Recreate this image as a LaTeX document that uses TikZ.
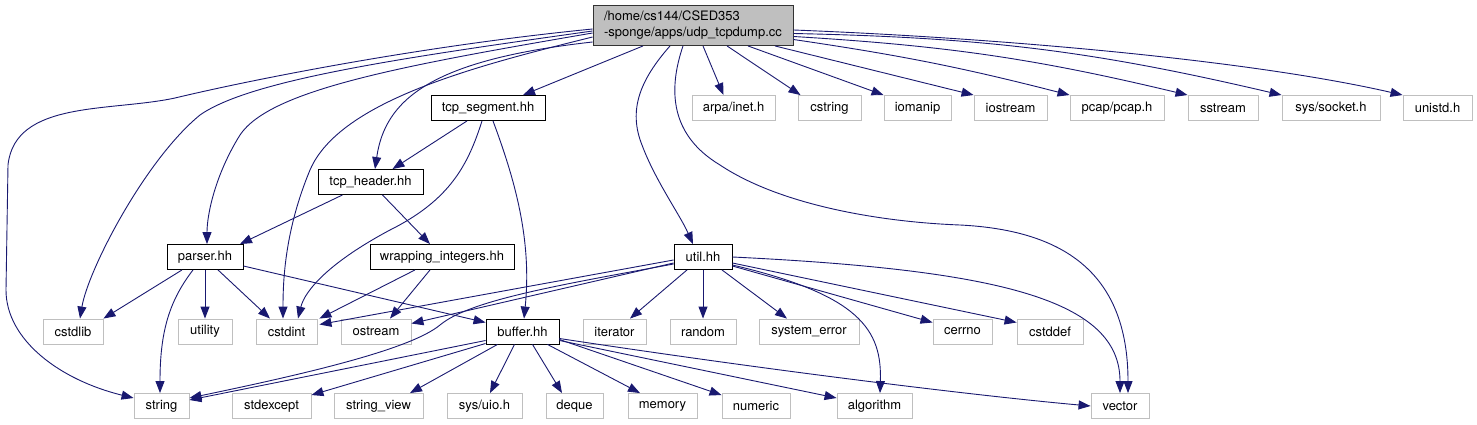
\documentclass[tikz,border=0pt]{standalone}
\usepackage{fontspec}
\setmainfont{TeX Gyre Heros}
\usetikzlibrary{calc,arrows.meta}
\definecolor{edgecol}{HTML}{191970}
\definecolor{extgray}{HTML}{BFBFBF}
\definecolor{rootfill}{HTML}{BFBFBF}
\tikzset{
  box/.style={draw=black, line width=0.9pt, fill=white, minimum height=25pt, inner sep=0pt, font=\fontsize{13}{16}\selectfont},
  ext/.style={box, draw=extgray},
  rootbox/.style={box, fill=rootfill, draw=black!80, minimum height=40pt, align=left},
  dep/.style={draw=edgecol, line width=0.9pt, -{Triangle[length=12pt,width=9pt]}}
}
\begin{document}
\begin{tikzpicture}[x=1pt,y=-1pt]
\useasboundingbox (0,0) rectangle (1477,425);
% nodes
\node[rootbox, minimum width=200pt] (root) at (693,25.5) {/home/cs144/CSED353\\-sponge/apps/udp\_tcpdump.cc};
\node[box, minimum width=114pt] (tcpseg) at (488,108) {tcp\_segment.hh};
\node[ext, minimum width=83pt] (arpa) at (733.5,108) {arpa/inet.h};
\node[ext, minimum width=63pt] (cstring) at (829.5,108) {cstring};
\node[ext, minimum width=67pt] (iomanip) at (917.5,108) {iomanip};
\node[ext, minimum width=73pt] (iostream) at (1010.5,108) {iostream};
\node[ext, minimum width=94pt] (pcap) at (1117,108) {pcap/pcap.h};
\node[ext, minimum width=70pt] (sstream) at (1223,108) {sstream};
\node[ext, minimum width=98pt] (socket) at (1331,108) {sys/socket.h};
\node[ext, minimum width=69pt] (unistd) at (1437.5,108) {unistd.h};
\node[box, minimum width=105pt] (tcphdr) at (370.5,182) {tcp\_header.hh};
\node[box, minimum width=76pt] (parser) at (205,257) {parser.hh};
\node[box, minimum width=144pt] (wrapping) at (442,257) {wrapping\_integers.hh};
\node[box, minimum width=58pt] (util) at (703,257) {util.hh};
\node[ext, minimum width=60pt] (cstdlib) at (73,331.5) {cstdlib};
\node[ext, minimum width=54pt] (utility) at (205,331.5) {utility};
\node[ext, minimum width=61pt] (cstdint) at (286.5,331.5) {cstdint};
\node[ext, minimum width=70pt] (ostream) at (376,331.5) {ostream};
\node[box, minimum width=73pt] (buffer) at (522.5,331.5) {buffer.hh};
\node[ext, minimum width=63pt] (iterator) at (614.5,331.5) {iterator};
\node[ext, minimum width=66pt] (random) at (703,331.5) {random};
\node[ext, minimum width=100pt] (syserr) at (809,331.5) {system\_error};
\node[ext, minimum width=59pt] (cerrno) at (962.5,331.5) {cerrno};
\node[ext, minimum width=66pt] (cstddef) at (1050,331.5) {cstddef};
\node[ext, minimum width=55pt] (string) at (161.5,406) {string};
\node[ext, minimum width=79pt] (stdexcept) at (271.5,406) {stdexcept};
\node[ext, minimum width=89pt] (stringview) at (378.5,406) {string\_view};
\node[ext, minimum width=75pt] (uio) at (484.5,406) {sys/uio.h};
\node[ext, minimum width=57pt] (deque) at (574.5,406) {deque};
\node[ext, minimum width=69pt] (memory) at (662.5,406) {memory};
\node[ext, minimum width=68pt] (numeric) at (756,406) {numeric};
\node[ext, minimum width=75pt] (algorithm) at (874.5,406) {algorithm};
\node[ext, minimum width=58pt] (vector) at (1120,406) {vector};
% root edges
\draw[dep] ($(root.west)+(0,3.5)$) .. controls (420,46) and (250,80) .. (175,98) .. controls (110,112) and (15,100) .. (8,165) -- (6,290) .. controls (6,340) and (60,380) .. ($(string.west)+(0,-8)$);
\draw[dep] ($(root.west)+(0,5.5)$) .. controls (400,58) and (250,80) .. (200,115) .. controls (145,160) and (88,270) .. ($(cstdlib.north)+(7,0)$);
\draw[dep] ($(root.west)+(0,7.5)$) .. controls (400,66) and (270,90) .. (240,135) .. controls (215,175) and (207,215) .. ($(parser.north)+(2,0)$);
\draw[dep] ($(root.west)+(0,11.5)$) .. controls (480,65) and (340,100) .. (310,170) .. controls (285,230) and (283,280) .. ($(cstdint.north)+(-3.5,0)$);
\draw[dep] ($(root.west)+(0,16.5)$) .. controls (430,60) and (385,100) .. ($(tcphdr.north)+(4.5,0)$);
\draw[dep] ($(root.south)+(-50,0)$) -- ($(tcpseg.north)+(35,0)$);
\draw[dep] ($(root.south)+(-23,0)$) .. controls (640,80) and (628,110) .. (642,145) .. controls (655,180) and (680,215) .. ($(util.north)+(-10,0)$);
\draw[dep] ($(root.south)+(-10,0)$) .. controls (668,90) and (670,135) .. (720,165) .. controls (780,205) and (880,222) .. (960,225) .. controls (1060,230) and (1128,270) .. ($(vector.north)+(8,0)$);
\draw[dep] ($(root.south)+(10,0)$) -- ($(arpa.north)+(-10,0)$);
\draw[dep] ($(root.south)+(34,0)$) -- ($(cstring.north)+(-29,0)$);
\draw[dep] ($(root.south)+(55,0)$) -- (iomanip.north west);
\draw[dep] ($(root.south)+(82,0)$) -- (iostream.north west);
\draw[dep] ($(root.east)+(0,14)$) to[bend left=3] (pcap.north west);
\draw[dep] ($(root.east)+(0,11)$) to[bend left=5] (sstream.north west);
\draw[dep] ($(root.east)+(0,8)$) to[bend left=6] (socket.north west);
\draw[dep] ($(root.east)+(0,4.5)$) .. controls (1000,38) and (1250,60) .. (unistd.north west);
% tcp_segment
\draw[dep] ($(tcpseg.south)+(-21,0)$) -- ($(tcphdr.north)+(22,0)$);
\draw[dep] ($(tcpseg.south)+(-6,0)$) .. controls (468,165) and (450,200) .. (390,230) .. controls (330,262) and (305,290) .. ($(cstdint.north)+(11.5,0)$);
\draw[dep] ($(tcpseg.south)+(5,0)$) .. controls (515,180) and (532,240) .. ($(buffer.north)+(1.5,0)$);
% tcp_header
\draw[dep] ($(tcphdr.south)+(-28,0)$) -- ($(parser.north)+(35,0)$);
\draw[dep] ($(tcphdr.south)+(12,0)$) -- ($(wrapping.north)+(-12,0)$);
% wrapping
\draw[dep] ($(wrapping.south)+(-27,0)$) -- ($(cstdint.north east)+(2,0)$);
\draw[dep] ($(wrapping.south)+(-12,0)$) -- ($(ostream.north)+(14,0)$);
% parser
\draw[dep] ($(parser.south)+(-23,0)$) -- (cstdlib.north east);
\draw[dep] ($(parser.south)+(-12,0)$) .. controls (170,300) and (160,330) .. ($(string.north)+(-1.5,0)$);
\draw[dep] (parser.south) -- (utility.north);
\draw[dep] ($(parser.south)+(13,0)$) -- ($(cstdint.north)+(-16.5,0)$);
\draw[dep] ($(parser.east)+(0,9)$) -- ($(buffer.west)+(0,-9)$);
% util
\draw[dep] ($(util.west)+(0,3)$) -- ($(cstdint.east)+(2,-7)$);
\draw[dep] ($(util.west)+(0,6)$) -- ($(ostream.east)+(0,-8)$);
\draw[dep] ($(util.west)+(0,7)$) .. controls (560,285) and (470,300) .. (440,325) .. controls (410,350) and (300,375) .. ($(string.east)+(0,-8)$);
\draw[dep] ($(util.south)+(-16,0)$) -- ($(iterator.north)+(15.5,0)$);
\draw[dep] (util.south) -- (random.north);
\draw[dep] ($(util.south)+(19,0)$) -- ($(syserr.north)+(-22,0)$);
\draw[dep] ($(util.east)+(0,8)$) .. controls (860,295) and (882,330) .. ($(algorithm.north)+(5.5,0)$);
\draw[dep] ($(util.east)+(0,9)$) -- ($(cerrno.west)+(0,-9)$);
\draw[dep] ($(util.east)+(0,6)$) -- ($(cstddef.west)+(0,-9)$);
\draw[dep] (util.east) .. controls (1000,270) and (1120,300) .. (vector.north);
% buffer
\draw[dep] ($(buffer.west)+(0,9)$) -- ($(string.east)+(0,-6)$);
\draw[dep] ($(buffer.west)+(0,12)$) -- ($(stdexcept.north east)+(0,2)$);
\draw[dep] ($(buffer.south)+(-25,0)$) -- ($(stringview.north)+(31.5,0)$);
\draw[dep] ($(buffer.south)+(-8,0)$) -- ($(uio.north)+(5.5,0)$);
\draw[dep] ($(buffer.south)+(10,0)$) -- ($(deque.north)+(-12.5,0)$);
\draw[dep] ($(buffer.south)+(25,0)$) -- ($(memory.north)+(-22.5,0)$);
\draw[dep] ($(buffer.east)+(0,8)$) -- ($(numeric.north west)+(0,2)$);
\draw[dep] ($(buffer.east)+(0,9)$) -- ($(algorithm.west)+(0,-8)$);
\draw[dep] ($(buffer.east)+(0,7)$) .. controls (800,375) and (1000,398) .. (vector.west);
\end{tikzpicture}
\end{document}
